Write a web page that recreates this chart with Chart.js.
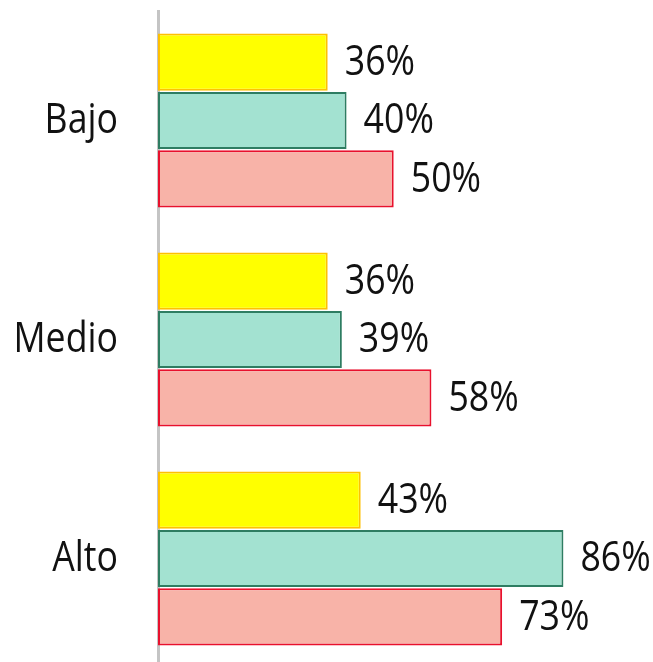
<!DOCTYPE html>
<html>
<head>
<meta charset="utf-8">
<script src="https://cdn.jsdelivr.net/npm/chart.js@4"></script>
<style>
  html, body { margin: 0; padding: 0; background: #fff; overflow: hidden; }
  canvas { display: block; }
</style>
</head>
<body>
<canvas id="myChart" width="653" height="668"></canvas>
<script>
var categorias = ["Bajo", "Medio", "Alto"];
var serieAmarilla = [36, 36, 43];
var serieVerde = [40, 39, 86];
var serieRoja = [50, 58, 73];

var fuente = "42px 'Open Sans', sans-serif";
var estrecho = 0.85; // letra condensada

// texto comprimido en horizontal
function textoEstrecho(ctx, txt, x, y, align) {
  ctx.save();
  ctx.translate(x, y);
  ctx.scale(estrecho, 1);
  ctx.textAlign = align;
  ctx.fillText(txt, 0, 0);
  ctx.restore();
}

// nombres de categoría y porcentajes al final de cada barra
var etiquetas = {
  id: "etiquetas",
  afterDatasetsDraw: function(chart) {
    var ctx = chart.ctx;
    var ejeY = chart.scales.y;
    ctx.save();
    ctx.font = fuente;
    ctx.fillStyle = "#111";
    ctx.textBaseline = "middle";
    categorias.forEach(function(c, j) {
      textoEstrecho(ctx, c, ejeY.right - 40, ejeY.getPixelForValue(j) + 1, "right");
    });
    chart.data.datasets.forEach(function(ds, i) {
      chart.getDatasetMeta(i).data.forEach(function(bar, j) {
        textoEstrecho(ctx, ds.data[j] + "%", bar.x + 17, bar.y + 1, "left");
      });
    });
    ctx.restore();
  }
};

new Chart("myChart", {
  type: "bar",
  data: {
    labels: categorias,
    datasets: [{
      data: serieAmarilla,
      backgroundColor: "#ffff00",
      borderColor: "#ffc000",
      borderWidth: 2,
      borderSkipped: false
    },{
      data: serieVerde,
      backgroundColor: "#a3e2d1",
      borderColor: "#2e7d62",
      borderWidth: 2,
      borderSkipped: false
    },{
      data: serieRoja,
      backgroundColor: "#f8b3a8",
      borderColor: "#e8112d",
      borderWidth: 2,
      borderSkipped: false
    }]
  },
  options: {
    indexAxis: "y",
    responsive: false,
    animation: false,
    layout: { padding: { top: 11, right: 0, bottom: 0, left: 0 } },
    datasets: { bar: { categoryPercentage: 0.8, barPercentage: 0.98 } },
    plugins: {
      legend: { display: false },
      tooltip: { enabled: false }
    },
    scales: {
      x: {
        display: false,
        min: 0,
        max: 105
      },
      y: {
        grid: { display: false, drawTicks: false },
        border: { display: true, color: "#c4c4c4", width: 3 },
        ticks: { display: false },
        afterFit: function(scale) {
          scale.width = 158;
          scale.paddingTop = 0;
          scale.paddingBottom = 0;
        }
      }
    }
  },
  plugins: [etiquetas]
});
</script>
</body>
</html>
